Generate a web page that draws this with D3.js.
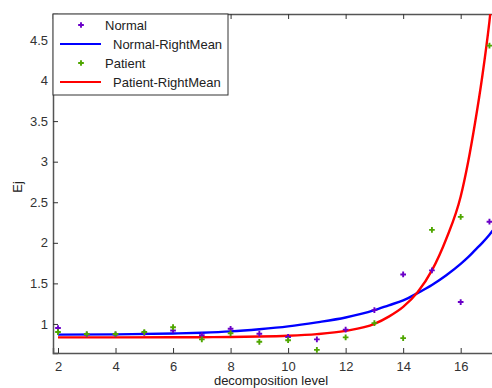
<!DOCTYPE html>
<html>
<head>
<meta charset="utf-8">
<script src="https://cdn.jsdelivr.net/npm/d3@7"></script>
<style>
  body { margin: 0; background: #fff; }
  svg { display: block; font-family: "Liberation Sans", Arial, sans-serif; }
</style>
</head>
<body>
<div id="chart"></div>
<script>
// Data
const levels = [2, 3, 4, 5, 6, 7, 8, 9, 10, 11, 12, 13, 14, 15, 16, 17]
const normal = [0.95, 0.87, 0.87, 0.89, 0.92, 0.86, 0.94, 0.88, 0.84, 0.81, 0.93, 1.17, 1.61, 1.66, 1.27, 2.26]
const patient = [0.90, 0.876, 0.876, 0.90, 0.96, 0.81, 0.885, 0.78, 0.80, 0.68, 0.835, 1.01, 0.825, 2.16, 2.32, 4.43]

// Fitted curves
const fitX = [2, 4, 6, 7, 8, 9, 10, 11, 12, 13, 13.5, 14, 14.5, 15, 15.5, 16, 16.25, 16.5, 16.75, 17, 17.2]
const normalFit = [0.868, 0.872, 0.882, 0.892, 0.908, 0.935, 0.97, 1.02, 1.08, 1.17, 1.23, 1.29, 1.38, 1.48, 1.60, 1.74, 1.82, 1.91, 2.0, 2.1, 2.19]
const patientFit = [0.835, 0.835, 0.836, 0.837, 0.84, 0.845, 0.855, 0.875, 0.915, 1.0, 1.09, 1.21, 1.39, 1.66, 2.05, 2.57, 2.98, 3.48, 4.05, 4.73, 5.4]

const xTicks = [2, 4, 6, 8, 10, 12, 14, 16]
const yTicks = [1, 1.5, 2, 2.5, 3, 3.5, 4, 4.5]

const series = [
  { name: "Normal", kind: "dot", color: "#6a00c8", y: normal },
  { name: "Normal-RightMean", kind: "line", color: "#0000ff", y: normalFit },
  { name: "Patient", kind: "dot", color: "#4fa600", y: patient },
  { name: "Patient-RightMean", kind: "line", color: "#ff0000", y: patientFit },
]

// Create SVG
const width = 492, height = 388
const svg = d3.select("#chart").append("svg").attr("width", width).attr("height", height)
const x = d3.scaleLinear().domain([1.826, 17.2]).range([53, 495.2])
const y = d3.scaleLinear().domain([0.642, 4.82]).range([353, 14])
const [plotLeft, plotRight] = x.range()
const [plotBottom, plotTop] = y.range()

svg.append("clipPath").attr("id", "plot")
  .append("rect").attr("x", plotLeft).attr("y", plotTop).attr("width", plotRight - plotLeft).attr("height", plotBottom - plotTop)

// Axes box
svg.append("g")
  .attr("transform", `translate(0,${plotBottom})`)
  .call(d3.axisBottom(x).tickValues(xTicks).tickSize(-5).tickPadding(9).tickFormat(d3.format("d")))
svg.append("g")
  .attr("transform", `translate(0,${plotTop})`)
  .call(d3.axisTop(x).tickValues(xTicks).tickSize(-5).tickFormat(""))
svg.append("g")
  .attr("transform", `translate(${plotLeft},0)`)
  .call(d3.axisLeft(y).tickValues(yTicks).tickSize(-5).tickPadding(5).tickFormat(d3.format("")))
svg.selectAll(".domain").attr("stroke", "#555").attr("stroke-width", 1.5)
svg.selectAll(".tick line").attr("stroke", "#333")
svg.selectAll(".tick text").attr("fill", "#333").style("font-size", "13px")

// Curves
const line = d3.line().curve(d3.curveMonotoneX).x((d) => x(d[0])).y((d) => y(d[1]))
const plot = svg.append("g").attr("clip-path", "url(#plot)")
series.filter((s) => s.kind === "line").forEach((s) => {
  plot.append("path")
    .datum(fitX.map((v, i) => [v, s.y[i]]))
    .attr("fill", "none")
    .attr("stroke", s.color)
    .attr("stroke-width", 2.4)
    .attr("d", line)
})

// Points
const marker = d3.symbol().type(d3.symbolCross).size(18)
series.filter((s) => s.kind === "dot").forEach((s) => {
  plot.append("g")
    .selectAll("path")
    .data(levels.map((v, i) => [v, s.y[i]]))
    .join("path")
    .attr("transform", (d) => `translate(${x(d[0])},${y(d[1])})`)
    .attr("d", marker)
    .attr("fill", s.color)
})

// Axis labels
svg.append("text")
  .attr("x", 271).attr("y", 385)
  .attr("text-anchor", "middle")
  .attr("fill", "#222")
  .style("font-size", "13px")
  .text("decomposition level")
svg.append("text")
  .attr("transform", "translate(22,187) rotate(-90)")
  .attr("text-anchor", "middle")
  .attr("fill", "#222")
  .style("font-size", "13px")
  .text("Ej")

// Legend
const legend = svg.append("g").attr("transform", `translate(${plotLeft},${plotTop})`)
legend.append("rect")
  .attr("x", 0).attr("y", 0).attr("width", 175).attr("height", 81)
  .attr("fill", "#fff").attr("stroke", "#333").attr("stroke-width", 1)
series.forEach((s, i) => {
  const cy = 11 + i * 19
  if (s.kind === "dot") {
    legend.append("path").attr("transform", `translate(28,${cy})`).attr("d", marker).attr("fill", s.color)
    legend.append("text").attr("x", 52).attr("y", cy + 5).attr("fill", "#222").style("font-size", "13px").text(s.name)
  } else {
    legend.append("line").attr("x1", 7).attr("x2", 48).attr("y1", cy).attr("y2", cy)
      .attr("stroke", s.color).attr("stroke-width", 2)
    legend.append("text").attr("x", 60).attr("y", cy + 5).attr("fill", "#222").style("font-size", "13px").text(s.name)
  }
})
</script>
</body>
</html>
